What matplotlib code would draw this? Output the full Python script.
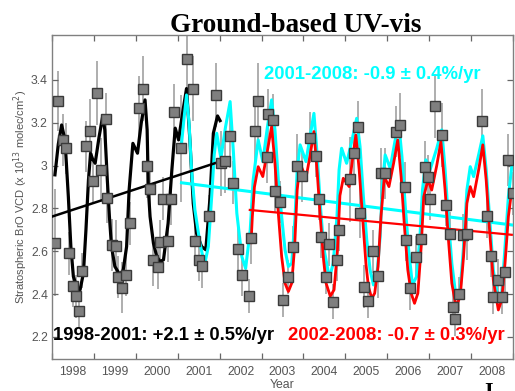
import matplotlib
matplotlib.use('Agg')
import matplotlib.pyplot as plt
from matplotlib.ticker import FixedLocator, NullFormatter

# monthly ground-based observations (year, BrO VCD, error)
obs_t = [1998.07, 1998.15, 1998.27, 1998.33, 1998.41, 1998.49, 1998.57, 1998.65, 1998.72, 1998.81,
         1998.91, 1998.99, 1999.07, 1999.16, 1999.28, 1999.31, 1999.42, 1999.52, 1999.58, 1999.66,
         1999.77, 1999.85, 2000.08, 2000.16, 2000.26, 2000.34, 2000.42, 2000.52, 2000.58, 2000.66,
         2000.76, 2000.84, 2000.92, 2001.09, 2001.21, 2001.36, 2001.42, 2001.50, 2001.58, 2001.74,
         2001.91, 2002.03, 2002.13, 2002.25, 2002.33, 2002.45, 2002.54, 2002.69, 2002.76, 2002.85,
         2002.92, 2003.12, 2003.16, 2003.28, 2003.32, 2003.45, 2003.50, 2003.62, 2003.76, 2003.85,
         2003.96, 2004.16, 2004.30, 2004.38, 2004.42, 2004.53, 2004.61, 2004.70, 2004.80, 2004.86,
         2005.11, 2005.21, 2005.31, 2005.35, 2005.45, 2005.53, 2005.65, 2005.78, 2005.84, 2005.95,
         2006.20, 2006.31, 2006.42, 2006.44, 2006.55, 2006.69, 2006.81, 2006.89, 2006.98, 2007.03,
         2007.15, 2007.30, 2007.39, 2007.50, 2007.56, 2007.62, 2007.71, 2007.81, 2007.91, 2008.27,
         2008.38, 2008.47, 2008.52, 2008.65, 2008.73, 2008.82, 2008.89, 2009.00]
obs_v = [2.64, 3.30, 3.12, 3.08, 2.59, 2.44, 2.39, 2.32, 2.51, 3.09,
         3.16, 2.93, 3.34, 2.98, 3.22, 2.85, 2.63, 2.625, 2.48, 2.43,
         2.49, 2.73, 3.27, 3.36, 3.00, 2.89, 2.56, 2.525, 2.645, 2.845,
         2.65, 2.845, 3.25, 3.08, 3.50, 3.36, 2.65, 2.56, 2.53, 2.765,
         3.33, 3.01, 3.02, 3.14, 2.92, 2.61, 2.49, 2.39, 2.66, 3.16,
         3.30, 3.04, 3.24, 3.215, 2.88, 2.83, 2.373, 2.48, 2.62, 3.00,
         2.95, 3.13, 3.045, 2.845, 2.668, 2.48, 2.632, 2.365, 2.56, 2.70,
         2.936, 3.061, 3.182, 2.78, 2.435, 2.37, 2.60, 2.484, 2.964, 2.964,
         3.159, 3.19, 2.899, 2.655, 2.428, 2.573, 2.656, 2.995, 2.949, 2.845,
         3.279, 3.143, 2.818, 2.683, 2.342, 2.283, 2.40, 2.674, 2.681, 3.21,
         2.763, 2.578, 2.388, 2.466, 2.387, 2.505, 3.027, 2.871]
obs_e = [0.25, 0.14, 0.12, 0.12, 0.10, 0.10, 0.10, 0.08, 0.08, 0.12,
         0.15, 0.10, 0.15, 0.15, 0.12, 0.12, 0.12, 0.12, 0.10, 0.12,
         0.10, 0.10, 0.15, 0.15, 0.15, 0.10, 0.12, 0.10, 0.10, 0.10,
         0.10, 0.12, 0.13, 0.25, 0.15, 0.15, 0.10, 0.10, 0.10, 0.10,
         0.15, 0.15, 0.15, 0.15, 0.10, 0.12, 0.10, 0.08, 0.12, 0.15,
         0.18, 0.12, 0.12, 0.12, 0.10, 0.10, 0.08, 0.08, 0.10, 0.15,
         0.12, 0.12, 0.10, 0.10, 0.10, 0.08, 0.10, 0.08, 0.10, 0.10,
         0.20, 0.12, 0.12, 0.12, 0.10, 0.08, 0.10, 0.10, 0.12, 0.12,
         0.12, 0.15, 0.12, 0.10, 0.10, 0.10, 0.10, 0.12, 0.10, 0.10,
         0.15, 0.15, 0.10, 0.10, 0.08, 0.08, 0.08, 0.10, 0.12, 0.15,
         0.10, 0.10, 0.08, 0.10, 0.08, 0.10, 0.12, 0.10]

# seasonal fit 1998-2001
fit98_t = [1998.07, 1998.15, 1998.23, 1998.31, 1998.39, 1998.45, 1998.51, 1998.59, 1998.67, 1998.75,
           1998.81, 1998.87, 1998.92, 1998.97, 1999.03, 1999.12, 1999.21, 1999.26, 1999.32, 1999.37,
           1999.42, 1999.50, 1999.62, 1999.70, 1999.78, 1999.84, 1999.93, 2000.04, 2000.13, 2000.22,
           2000.27, 2000.30, 2000.34, 2000.42, 2000.50, 2000.58, 2000.66, 2000.77, 2000.86, 2000.94,
           2001.02, 2001.12, 2001.21, 2001.29, 2001.37, 2001.45, 2001.57, 2001.67, 2001.77, 2001.85,
           2001.95, 2002.01]
fit98_v = [2.957, 3.10, 3.19, 3.12, 2.855, 2.622, 2.482, 2.435, 2.42, 2.498,
           2.70, 2.933, 3.058, 3.03, 3.011, 3.13, 3.232, 3.167, 2.933, 2.762,
           2.622, 2.529, 2.49, 2.513, 2.622, 2.886, 3.104, 3.058, 3.20, 3.307,
           3.167, 2.886, 2.762, 2.638, 2.575, 2.552, 2.56, 2.73, 2.98, 3.175,
           3.12, 3.25, 3.36, 3.12, 2.824, 2.684, 2.622, 2.607, 2.85, 3.151,
           3.232, 3.21]

# seasonal fit 2001-2008
fit01_t = [2001.08, 2001.15, 2001.21, 2001.27, 2001.33, 2001.41, 2001.53, 2001.64, 2001.73, 2001.81,
           2001.87, 2001.93, 2002.03, 2002.14, 2002.25, 2002.33, 2002.41, 2002.53, 2002.62, 2002.73,
           2002.80, 2002.92, 2003.03, 2003.14, 2003.24, 2003.32, 2003.40, 2003.48, 2003.56, 2003.64,
           2003.72, 2003.80, 2003.85, 2003.92, 2004.06, 2004.16, 2004.25, 2004.33, 2004.40, 2004.48,
           2004.62, 2004.71, 2004.80, 2004.85, 2004.91, 2005.03, 2005.16, 2005.27, 2005.35, 2005.43,
           2005.51, 2005.59, 2005.67, 2005.75, 2005.83, 2005.88, 2005.95, 2006.07, 2006.18, 2006.27,
           2006.35, 2006.43, 2006.51, 2006.60, 2006.70, 2006.78, 2006.84, 2006.92, 2007.02, 2007.18,
           2007.30, 2007.38, 2007.46, 2007.54, 2007.64, 2007.74, 2007.82, 2007.90, 2007.98, 2008.06,
           2008.18, 2008.28, 2008.36, 2008.44, 2008.53, 2008.65, 2008.73, 2008.81, 2008.89, 2008.97]
fit01_v = [3.081, 3.22, 3.33, 3.20, 2.98, 2.793, 2.638, 2.536, 2.622, 2.855,
           3.05, 3.151, 3.035, 3.18, 3.299, 3.058, 2.778, 2.575, 2.52, 2.70,
           2.933, 3.12, 3.019, 3.18, 3.307, 3.167, 2.933, 2.762, 2.607, 2.529,
           2.544, 2.762, 2.98, 3.097, 3.019, 3.14, 3.244, 3.042, 2.824, 2.622,
           2.474, 2.544, 2.762, 2.98, 3.081, 3.011, 3.12, 3.221, 3.089, 2.855,
           2.653, 2.513, 2.443, 2.482, 2.669, 2.902, 3.05, 2.988, 3.11, 3.206,
           3.042, 2.809, 2.607, 2.443, 2.482, 2.669, 2.886, 3.027, 2.98, 3.08,
           3.167, 2.98, 2.746, 2.544, 2.388, 2.42, 2.622, 2.886, 2.995, 2.949,
           3.05, 3.139, 2.98, 2.762, 2.513, 2.365, 2.40, 2.622, 2.855, 2.995]

# seasonal fit 2002-2008
fit02_t = [2002.75, 2002.78, 2002.83, 2002.92, 2003.03, 2003.14, 2003.24, 2003.32, 2003.40, 2003.48,
           2003.56, 2003.64, 2003.72, 2003.79, 2003.85, 2003.92, 2004.06, 2004.16, 2004.25, 2004.33,
           2004.40, 2004.48, 2004.54, 2004.64, 2004.73, 2004.81, 2004.87, 2004.95, 2005.09, 2005.17,
           2005.25, 2005.33, 2005.41, 2005.49, 2005.55, 2005.63, 2005.70, 2005.78, 2005.85, 2005.93,
           2006.04, 2006.15, 2006.25, 2006.33, 2006.41, 2006.49, 2006.57, 2006.65, 2006.73, 2006.81,
           2006.87, 2006.97, 2007.06, 2007.18, 2007.28, 2007.38, 2007.46, 2007.54, 2007.64, 2007.74,
           2007.82, 2007.90, 2007.98, 2008.06, 2008.18, 2008.28, 2008.36, 2008.44, 2008.53, 2008.65,
           2008.73, 2008.81, 2008.89, 2008.97]
fit02_v = [2.64, 2.76, 2.90, 2.995, 2.949, 3.07, 3.182, 3.011, 2.778, 2.575,
           2.451, 2.412, 2.451, 2.622, 2.886, 3.011, 2.941, 3.05, 3.159, 2.964,
           2.762, 2.56, 2.451, 2.39, 2.42, 2.60, 2.86, 2.941, 2.902, 3.03,
           3.143, 2.98, 2.762, 2.544, 2.435, 2.38, 2.404, 2.529, 2.762, 2.949,
           2.902, 3.01, 3.12, 2.949, 2.715, 2.513, 2.404, 2.357, 2.404, 2.622,
           2.855, 2.933, 2.886, 3.00, 3.112, 2.886, 2.653, 2.451, 2.342, 2.388,
           2.575, 2.824, 2.902, 2.855, 2.98, 3.097, 2.933, 2.70, 2.466, 2.326,
           2.373, 2.544, 2.762, 2.886]

# linear trends (start, end)
trend98_t = [1998.0, 2002.01]
trend98_v = [2.762, 3.019]
trend01_t = [2001.09, 2008.97]
trend01_v = [2.92, 2.723]
trend02_t = [2002.72, 2008.97]
trend02_v = [2.793, 2.677]

years = list(range(1998, 2010))
year_labels = [str(y) for y in range(1998, 2009)]
yticks = [2.2, 2.4, 2.6, 2.8, 3.0, 3.2, 3.4]
ytick_labels = ['2.2', '2.4', '2.6', '2.8', '3', '3.2', '3.4']

plt.rcParams['font.family'] = ['Liberation Sans', 'DejaVu Sans']

fig = plt.figure(figsize=(5.15, 3.91), dpi=100)
ax = fig.add_axes([52/515, 1 - 359/391, 461/515, 324/391])

ax.errorbar(obs_t, obs_v, yerr=obs_e, fmt='none', ecolor='#999999', elinewidth=1.1, zorder=1)

ax.plot(fit98_t, fit98_v, '-', color='black', lw=2.3, zorder=3)
ax.plot(fit01_t, fit01_v, '-', color='#00ffff', lw=2.2, zorder=3)
ax.plot(fit02_t, fit02_v, '-', color='#ff0000', lw=2.0, zorder=4)

ax.plot(trend98_t, trend98_v, '-', color='black', lw=1.8, zorder=3)
ax.plot(trend01_t, trend01_v, '-', color='#00ffff', lw=2.2, zorder=3)
ax.plot(trend02_t, trend02_v, '-', color='#ff0000', lw=1.6, zorder=4)

ax.plot(obs_t, obs_v, 's', ms=6.5, mfc='#7f7f7f', mec='#3a3a3a', mew=1.0, zorder=5)

ax.set_xlim(1998, 2009)
ax.set_ylim(2.097, 3.61)

ax.xaxis.set_major_locator(FixedLocator(years))
ax.xaxis.set_major_formatter(NullFormatter())
ax.set_xticks([y + 0.5 for y in range(1998, 2009)], minor=True)
ax.set_xticklabels(year_labels, minor=True)
ax.tick_params(axis='x', which='major', direction='in', top=True, length=4, width=0.9, color='#666666')
ax.tick_params(axis='x', which='minor', length=0, pad=5, labelsize=8.8, labelcolor='#555555')

ax.set_yticks(yticks)
ax.set_yticklabels(ytick_labels)
ax.tick_params(axis='y', direction='in', right=True, length=4, width=0.9, color='#666666',
               pad=3, labelsize=8.8, labelcolor='#555555')

for s in ax.spines.values():
    s.set_color('#808080')
    s.set_linewidth(1.0)

ax.set_xlabel('Year', fontsize=8.8, color='#555555', labelpad=1)
ax.set_ylabel('Stratospheric BrO VCD (x 10$^{13}$ molec/cm$^2$)', fontsize=8, color='#555555', labelpad=1)

ax.text(0.46, 0.877, '2001-2008: -0.9 \u00b1 0.4%/yr', transform=ax.transAxes, color='#00ffff',
        fontsize=13.3, fontweight='bold', ha='left', va='center', zorder=6)
ax.text(0.002, 0.074, '1998-2001: +2.1 \u00b1 0.5%/yr', transform=ax.transAxes, color='black',
        fontsize=13.3, fontweight='bold', ha='left', va='center', zorder=6)
ax.text(0.512, 0.074, '2002-2008: -0.7 \u00b1 0.3%/yr', transform=ax.transAxes, color='#ff0000',
        fontsize=13.3, fontweight='bold', ha='left', va='center', zorder=6)

fig.text(296/515, 1 - 32/391, 'Ground-based UV-vis', ha='center', va='baseline',
         fontsize=19.5, fontweight='bold', family='Liberation Serif')
fig.text(489/515, 1 - 382/391, 'I', ha='center', va='top',
         fontsize=16, fontweight='bold', family='Liberation Serif')

fig.savefig('out.png', dpi=100)
